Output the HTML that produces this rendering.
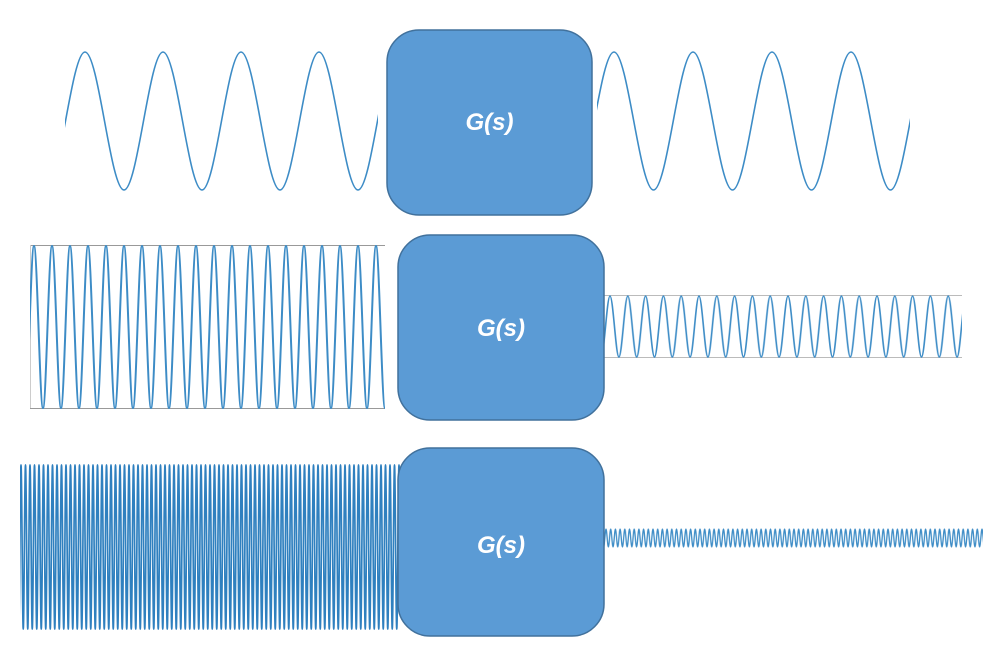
<!DOCTYPE html>
<html><head><style>
html,body{margin:0;padding:0;background:#fff;width:994px;height:652px;overflow:hidden}
svg{display:block}
text{font-family:"Liberation Sans",sans-serif;font-weight:bold;font-style:italic;font-size:24px;fill:#fff}
</style></head><body>
<svg width="994" height="652" viewBox="0 0 994 652">
<defs>
<pattern id="p1" patternUnits="userSpaceOnUse" x="85" y="50" width="78" height="144">
<path d="M0,2 C13.6,2 25.4,140 39,140 C52.6,140 64.4,2 78,2" fill="none" stroke="#3d8cc6" stroke-width="1.6"/>
</pattern>
<pattern id="p1o" patternUnits="userSpaceOnUse" x="614" y="50" width="79" height="144">
<path d="M0,2 C13.8,2 25.7,140 39.5,140 C53.3,140 65.2,2 79,2" fill="none" stroke="#3d8cc6" stroke-width="1.6"/>
</pattern>
<pattern id="p2" patternUnits="userSpaceOnUse" x="34" y="244" width="18" height="166">
<path d="M0,2 C3.2,2 5.8,164 9,164 C12.2,164 14.8,2 18,2" fill="none" stroke="#3d8cc6" stroke-width="2"/>
</pattern>
<pattern id="p2o" patternUnits="userSpaceOnUse" x="610" y="294" width="17.8" height="65">
<path d="M0,2 C3.1,2 5.8,63 8.9,63 C12,63 14.7,2 17.8,2" fill="none" stroke="#3d8cc6" stroke-width="1.6"/>
</pattern>
<pattern id="p3" patternUnits="userSpaceOnUse" x="21" y="463" width="4.5" height="168">
<path d="M0,2 C0.8,2 1.45,166 2.25,166 C3.05,166 3.7,2 4.5,2" fill="none" stroke="#2f80bf" stroke-width="1.7"/>
</pattern>
<pattern id="p3o" patternUnits="userSpaceOnUse" x="606" y="527" width="4.7" height="22">
<path d="M0,2 C0.8,2 1.5,20 2.35,20 C3.2,20 3.9,2 4.7,2" fill="none" stroke="#3d8cc6" stroke-width="1.3"/>
</pattern>
</defs>

<rect x="65" y="50" width="313" height="144" fill="url(#p1)"/>
<rect x="597" y="50" width="313" height="144" fill="url(#p1o)"/>
<rect x="387" y="30" width="205" height="185" rx="32" fill="#5b9bd5" stroke="#41719c" stroke-width="1.5"/>
<text x="489.5" y="130" text-anchor="middle">G(s)</text>

<line x1="30" y1="245.5" x2="385" y2="245.5" stroke="#999" stroke-width="1"/>
<line x1="30" y1="408.5" x2="385" y2="408.5" stroke="#999" stroke-width="1"/>
<line x1="30.5" y1="245" x2="30.5" y2="408" stroke="#ccc" stroke-width="1"/>
<rect x="30" y="244" width="355" height="166" fill="url(#p2)"/>
<line x1="604" y1="295.5" x2="962" y2="295.5" stroke="#bbb" stroke-width="1"/>
<line x1="604" y1="357.5" x2="962" y2="357.5" stroke="#bbb" stroke-width="1"/>
<rect x="604" y="294" width="358" height="65" fill="url(#p2o)"/>
<rect x="398" y="235" width="206" height="185" rx="32" fill="#5b9bd5" stroke="#41719c" stroke-width="1.5"/>
<text x="501" y="336" text-anchor="middle">G(s)</text>

<rect x="20" y="463" width="380" height="168" fill="url(#p3)"/>
<rect x="604" y="527" width="379" height="22" fill="url(#p3o)"/>
<rect x="398" y="448" width="206" height="188" rx="32" fill="#5b9bd5" stroke="#41719c" stroke-width="1.5"/>
<text x="501" y="553" text-anchor="middle">G(s)</text>
</svg>
</body></html>
